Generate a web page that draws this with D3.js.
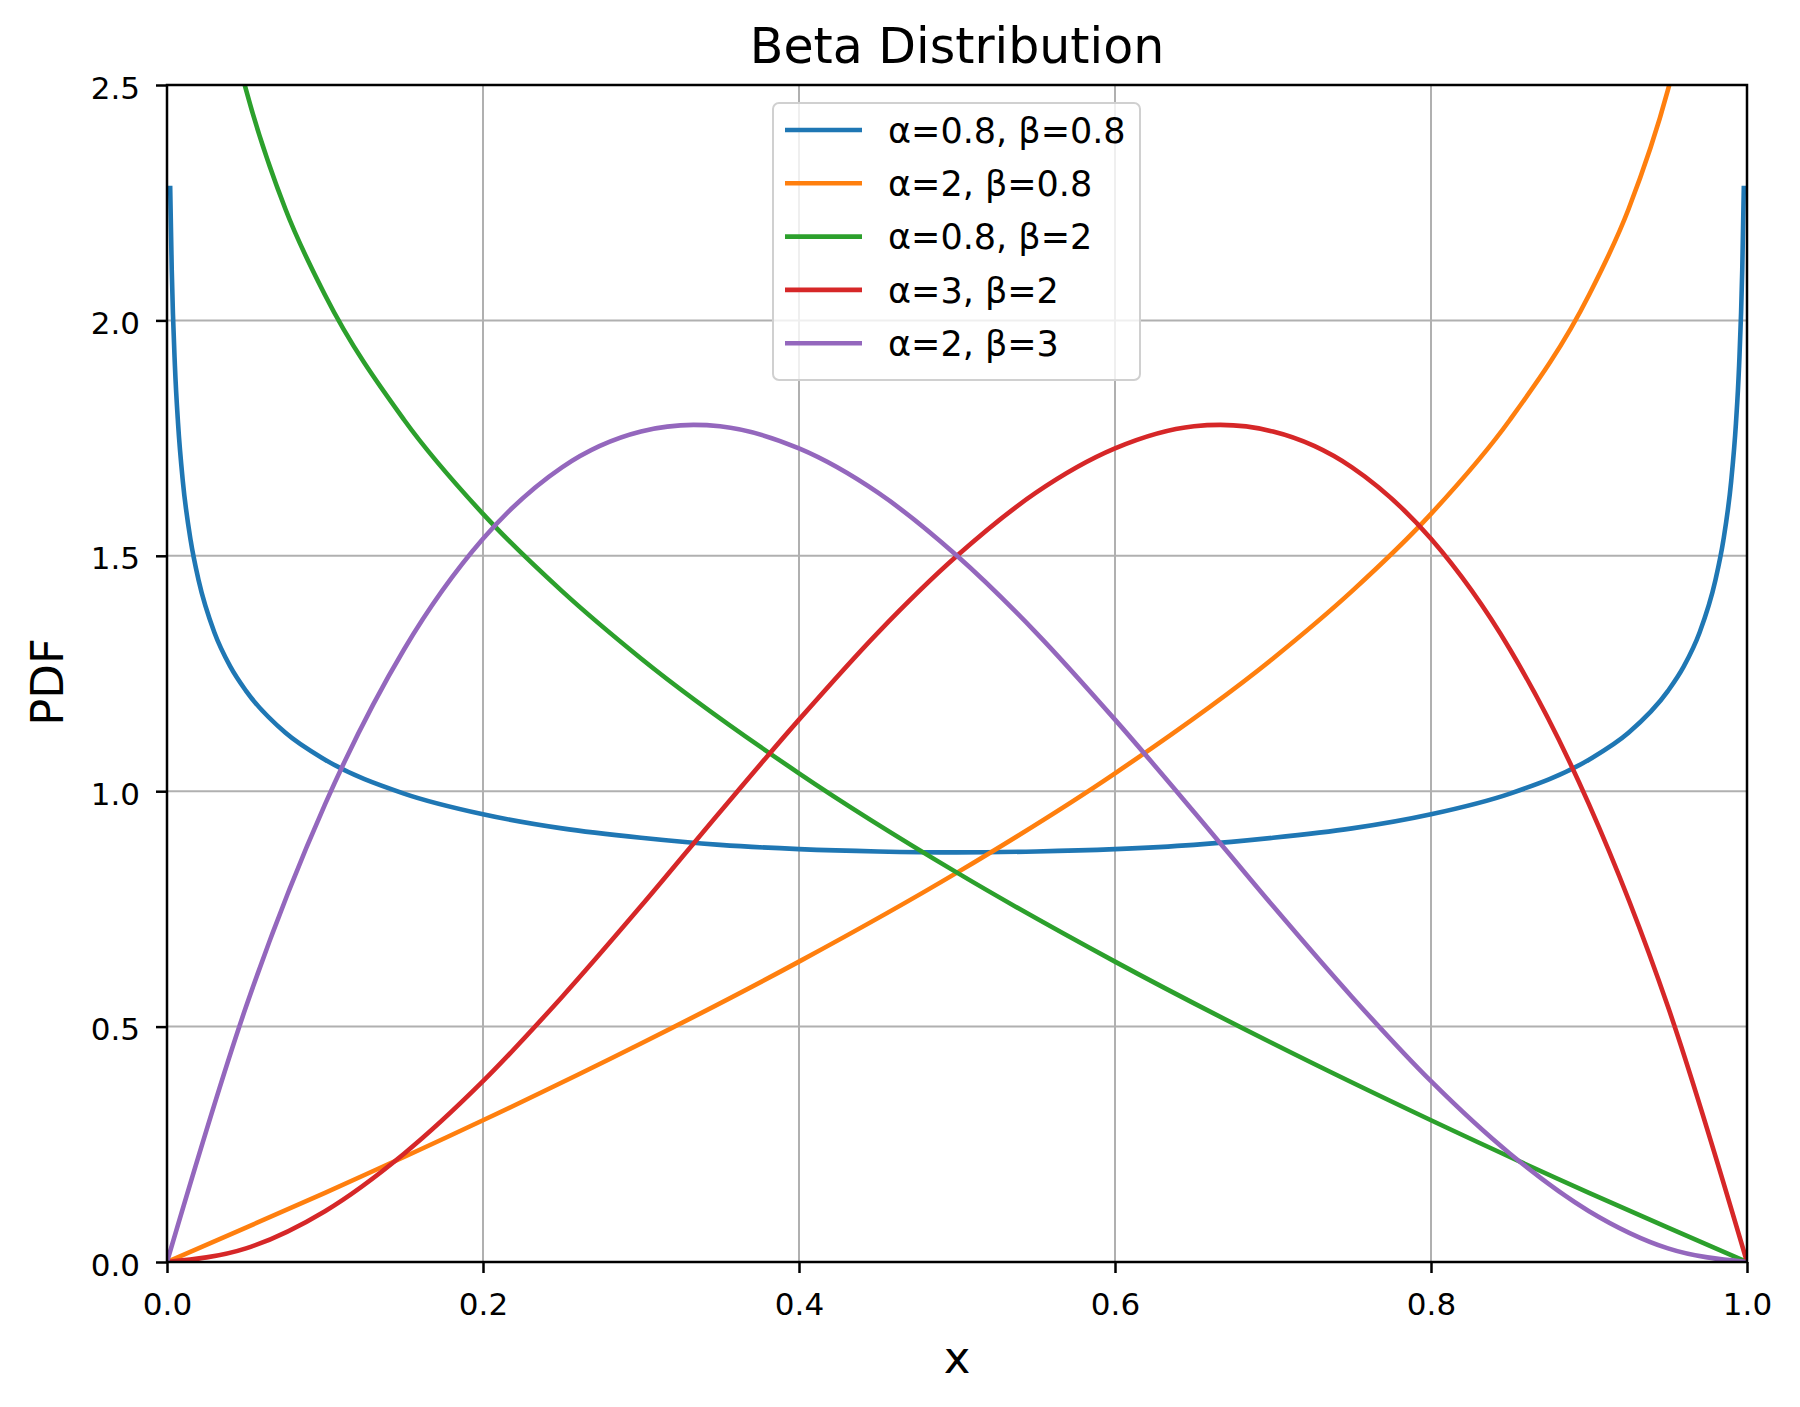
<!DOCTYPE html>
<html>
<head>
<meta charset="utf-8">
<script src="https://cdn.jsdelivr.net/npm/d3@7"></script>
<style>
  body { margin: 0; background: #fff; }
  text { font-family: "DejaVu Sans", sans-serif; fill: #000; }
</style>
</head>
<body>
<script>
// values, [x, pdf]
const blueSeries = [
  [0.002, 2.286], [0.003, 2.108], [0.005, 1.904], [0.007, 1.781], [0.01, 1.659],
  [0.015, 1.532], [0.02, 1.448], [0.03, 1.337], [0.04, 1.265], [0.05, 1.213],
  [0.075, 1.124], [0.1, 1.067], [0.15, 0.995], [0.2, 0.951], [0.25, 0.921],
  [0.3, 0.901], [0.35, 0.886], [0.4, 0.877], [0.45, 0.872], [0.5, 0.870],
  [0.55, 0.872], [0.6, 0.877], [0.65, 0.886], [0.7, 0.901], [0.75, 0.921],
  [0.8, 0.951], [0.85, 0.995], [0.9, 1.067], [0.925, 1.124], [0.95, 1.213],
  [0.96, 1.265], [0.97, 1.337], [0.98, 1.448], [0.985, 1.532], [0.99, 1.659],
  [0.993, 1.781], [0.995, 1.904], [0.997, 2.108], [0.998, 2.286]
];
const orangeSeries = [
  [0, 0], [0.05, 0.073], [0.1, 0.147], [0.2, 0.301], [0.3, 0.464], [0.4, 0.638],
  [0.5, 0.827], [0.6, 1.038], [0.7, 1.282], [0.75, 1.425], [0.8, 1.589],
  [0.85, 1.789], [0.9, 2.054], [0.925, 2.236], [0.95, 2.490], [0.9508, 2.5]
];
const greenSeries = [
  [0.0492, 2.5], [0.05, 2.490], [0.075, 2.236], [0.1, 2.054], [0.15, 1.789],
  [0.2, 1.589], [0.25, 1.425], [0.3, 1.282], [0.4, 1.038], [0.5, 0.827],
  [0.6, 0.638], [0.7, 0.464], [0.8, 0.301], [0.9, 0.147], [0.95, 0.073], [1, 0]
];
const redSeries = [
  [0, 0], [0.05, 0.029], [0.1, 0.108], [0.15, 0.230], [0.2, 0.384], [0.25, 0.563],
  [0.3, 0.756], [0.35, 0.956], [0.4, 1.152], [0.45, 1.337], [0.5, 1.5],
  [0.55, 1.634], [0.6, 1.728], [0.65, 1.775], [0.6667, 1.778], [0.7, 1.764],
  [0.75, 1.688], [0.8, 1.536], [0.85, 1.301], [0.9, 0.972], [0.95, 0.542], [1, 0]
];
const purpleSeries = [
  [0, 0], [0.05, 0.542], [0.1, 0.972], [0.15, 1.301], [0.2, 1.536], [0.25, 1.688],
  [0.3, 1.764], [0.3333, 1.778], [0.35, 1.775], [0.4, 1.728], [0.45, 1.634],
  [0.5, 1.5], [0.55, 1.337], [0.6, 1.152], [0.65, 0.956], [0.7, 0.756],
  [0.75, 0.563], [0.8, 0.384], [0.85, 0.230], [0.9, 0.108], [0.95, 0.029], [1, 0]
];

const seriesLabels = ["α=0.8, β=0.8", "α=2, β=0.8", "α=0.8, β=2", "α=3, β=2", "α=2, β=3"];
const seriesColors = ["#1f77b4", "#ff7f0e", "#2ca02c", "#d62728", "#9467bd"];
const xTicks = [0, 0.2, 0.4, 0.6, 0.8, 1.0];
const yTicks = [0, 0.5, 1.0, 1.5, 2.0, 2.5];

const allSeries = [blueSeries, orangeSeries, greenSeries, redSeries, purpleSeries];

const width = 1800, height = 1407;
const margin = {left: 167, right: 53, top: 85, bottom: 145};
const iw = width - margin.left - margin.right;
const ih = height - margin.top - margin.bottom;

const svg = d3.select("body").append("svg")
  .attr("width", width)
  .attr("height", height);

const x = d3.scaleLinear().domain([0, 1]).range([0, iw]);
const y = d3.scaleLinear().domain([0, 2.5]).range([ih, 0]);

const g = svg.append("g")
  .attr("transform", `translate(${margin.left},${margin.top})`);

svg.append("defs").append("clipPath").attr("id", "clip")
  .append("rect").attr("width", iw).attr("height", ih);

// grid
g.append("g").selectAll("line").data(xTicks).join("line")
  .attr("x1", d => x(d)).attr("x2", d => x(d))
  .attr("y1", 0).attr("y2", ih)
  .attr("stroke", "#b0b0b0").attr("stroke-width", 2);
g.append("g").selectAll("line").data(yTicks).join("line")
  .attr("x1", 0).attr("x2", iw)
  .attr("y1", d => y(d)).attr("y2", d => y(d))
  .attr("stroke", "#b0b0b0").attr("stroke-width", 2);

// curves
const line = d3.line()
  .x(d => x(d[0]))
  .y(d => y(d[1]))
  .curve(d3.curveMonotoneX);

g.append("g").attr("clip-path", "url(#clip)")
  .selectAll("path").data(allSeries).join("path")
  .attr("d", line)
  .attr("fill", "none")
  .attr("stroke", (d, i) => seriesColors[i])
  .attr("stroke-width", 4.6)
  .attr("stroke-linejoin", "round")
  .attr("stroke-linecap", "butt");

// axes
const xAxis = g.append("g")
  .attr("transform", `translate(0,${ih})`)
  .call(d3.axisBottom(x).tickValues(xTicks).tickFormat(d3.format(".1f"))
    .tickSize(11).tickPadding(20));
const yAxis = g.append("g")
  .call(d3.axisLeft(y).tickValues(yTicks).tickFormat(d3.format(".1f"))
    .tickSize(11).tickPadding(16));

[xAxis, yAxis].forEach(a => {
  a.select(".domain").remove();
  a.selectAll(".tick line").attr("stroke", "#000").attr("stroke-width", 2.5);
  a.selectAll(".tick text").attr("font-size", 31).attr("fill", "#111")
    .attr("font-family", "DejaVu Sans");
});
yAxis.selectAll(".tick text").attr("dy", "0.42em");

// spines
g.append("rect")
  .attr("width", iw).attr("height", ih)
  .attr("fill", "none").attr("stroke", "#000").attr("stroke-width", 2.5);

// title and labels
svg.append("text")
  .attr("x", margin.left + iw / 2).attr("y", 63)
  .attr("text-anchor", "middle").attr("font-size", 49)
  .text("Beta Distribution");
svg.append("text")
  .attr("x", margin.left + iw / 2).attr("y", 1373)
  .attr("text-anchor", "middle").attr("font-size", 45)
  .text("x");
svg.append("text")
  .attr("transform", "translate(63,682) rotate(-90)")
  .attr("text-anchor", "middle").attr("font-size", 45)
  .text("PDF");

// legend
const lg = svg.append("g").attr("transform", "translate(773,103)");
lg.append("rect")
  .attr("width", 367).attr("height", 277)
  .attr("rx", 6).attr("ry", 6)
  .attr("fill", "#fff").attr("fill-opacity", 0.8)
  .attr("stroke", "#d0d0d0").attr("stroke-width", 2);
const item = lg.selectAll("g.item").data(seriesLabels).join("g")
  .attr("class", "item")
  .attr("transform", (d, i) => `translate(0,${27 + i * 53.3})`);
item.append("line")
  .attr("x1", 12).attr("x2", 89)
  .attr("stroke", (d, i) => seriesColors[i]).attr("stroke-width", 4.6);
item.append("text")
  .attr("x", 115).attr("dy", "0.36em")
  .attr("font-size", 35).attr("fill", "#111")
  .text(d => d);
</script>
</body>
</html>
